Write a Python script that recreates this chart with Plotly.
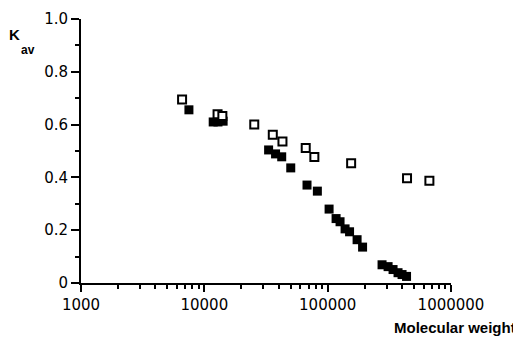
import plotly.graph_objects as go

# Open squares
open_mw = [6600, 12800, 14000, 25400, 35900, 43000, 66400, 78000, 155000, 440000, 668000]
open_kav = [0.695, 0.639, 0.633, 0.600, 0.562, 0.536, 0.511, 0.477, 0.454, 0.397, 0.387]

# Filled squares
filled_mw = [7500, 11800, 12900, 14200, 33200, 37800, 42400, 50200, 68000, 82500,
             102700, 117000, 126000, 138400, 150500, 173200, 191900,
             276000, 309000, 339000, 372000, 401000, 436000]
filled_kav = [0.656, 0.610, 0.610, 0.613, 0.504, 0.489, 0.478, 0.436, 0.371, 0.348,
              0.280, 0.244, 0.232, 0.205, 0.194, 0.164, 0.136,
              0.069, 0.062, 0.051, 0.039, 0.032, 0.025]

x_ticks = [1000, 10000, 100000, 1000000]
x_ticktext = ["1000", "10000", "100000", "1000000"]
x_minor = [m * d for d in (1000, 10000, 100000) for m in range(2, 10)]
y_ticks = [0, 0.2, 0.4, 0.6, 0.8, 1.0]
y_ticktext = ["0", "0.2", "0.4", "0.6", "0.8", "1.0"]
y_minor = [0.1, 0.3, 0.5, 0.7, 0.9]

fig = go.Figure()
fig.add_trace(go.Scatter(x=filled_mw, y=filled_kav, mode="markers",
                         marker=dict(symbol="square", size=9, color="black",
                                     line=dict(width=0)),
                         showlegend=False))
fig.add_trace(go.Scatter(x=open_mw, y=open_kav, mode="markers",
                         marker=dict(symbol="square", size=8, color="white",
                                     line=dict(width=2, color="black")),
                         showlegend=False))

font = dict(family="DejaVu Sans", size=15, color="black")
# page body has an 8px default margin; compensate so the plot area sits at 81..451 x 19..283
fig.update_layout(
    width=513, height=331,
    margin=dict(l=73, r=70, t=11, b=56, autoexpand=False),
    paper_bgcolor="white", plot_bgcolor="white",
    font=font,
    xaxis=dict(type="log", range=[3, 6], tickvals=x_ticks, ticktext=x_ticktext,
               showgrid=False, zeroline=False, showline=True, linecolor="black",
               linewidth=2, ticks="outside", ticklen=7, tickwidth=2, tickcolor="black",
               minor=dict(tickvals=x_minor, ticks="outside", ticklen=4, tickwidth=2,
                          tickcolor="black", showgrid=False),
               tickfont=font, automargin=False),
    yaxis=dict(range=[0, 1.0], tickvals=y_ticks, ticktext=y_ticktext,
               showgrid=False, zeroline=False, showline=True, linecolor="black",
               linewidth=2, ticks="outside", ticklen=8, tickwidth=2, tickcolor="black",
               minor=dict(tickvals=y_minor, ticks="outside", ticklen=4, tickwidth=2,
                          tickcolor="black", showgrid=False),
               tickfont=font, automargin=False),
)

def px(xp):
    return (xp - 81) / (451 - 81)

def py(yp):
    return (283.3 - yp) / (283.3 - 19)

fig.add_annotation(text="<b>Molecular weight</b>", x=px(455), y=py(328),
                   xref="paper", yref="paper", showarrow=False,
                   xanchor="center", yanchor="middle",
                   font=dict(family="Liberation Sans", size=15, color="black"))
fig.add_annotation(text="<b>K</b>", x=px(14), y=py(35),
                   xref="paper", yref="paper", showarrow=False,
                   xanchor="center", yanchor="middle",
                   font=dict(family="Liberation Sans", size=15, color="black"))
fig.add_annotation(text="<b>av</b>", x=px(28), y=py(50),
                   xref="paper", yref="paper", showarrow=False,
                   xanchor="center", yanchor="middle",
                   font=dict(family="Liberation Sans", size=12, color="black"))

fig.write_html("out.html")
